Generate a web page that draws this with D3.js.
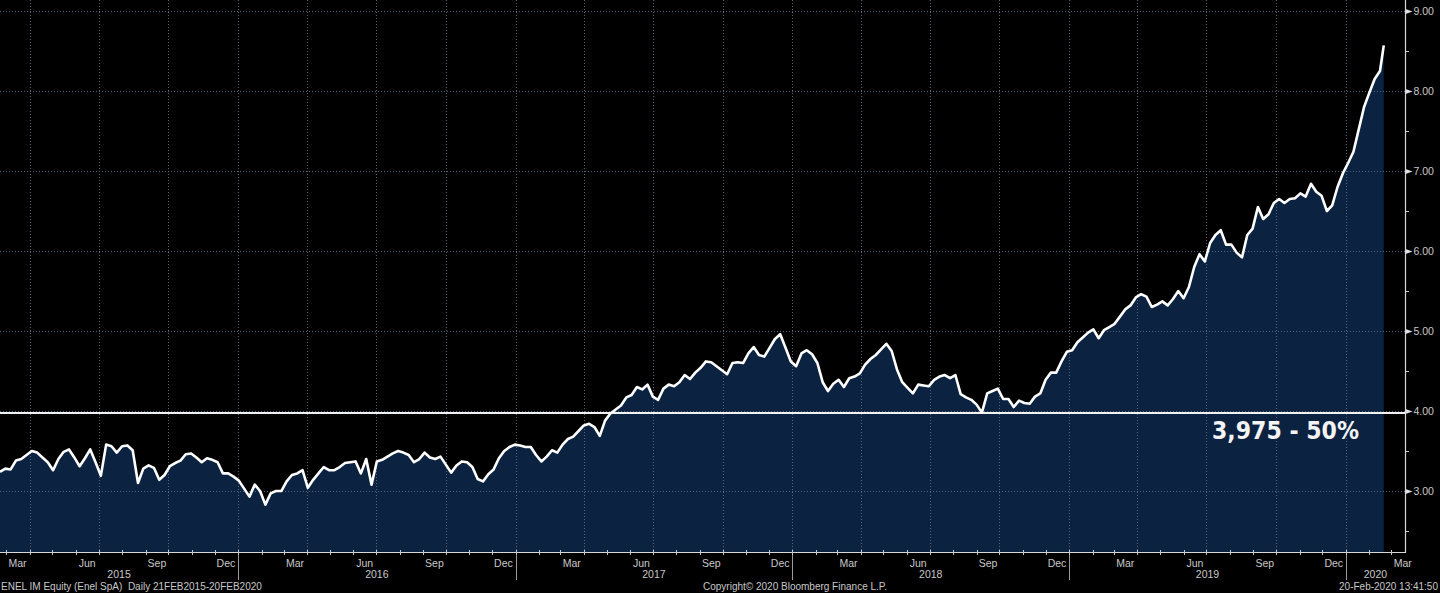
<!DOCTYPE html>
<html>
<head>
<meta charset="utf-8">
<script src="https://cdn.jsdelivr.net/npm/d3@7"></script>
<style>
html,body{margin:0;padding:0;background:#000;}
svg{display:block;}
text{white-space:pre;}
</style>
</head>
<body>
<svg id="chart" width="1440" height="593"></svg>
<script>
// ---- data ----
const startDate = "2015-02-21";
const endDate = "2020-02-20";
const stepDays = 7;
// weekly closing prices (EUR)
const prices = [
3.24,3.28,3.27,3.38,3.40,3.45,3.50,3.48,3.42,3.36,
3.26,3.40,3.49,3.52,3.42,3.31,3.41,3.52,3.36,3.19,
3.58,3.56,3.48,3.56,3.57,3.51,3.10,3.28,3.32,3.29,
3.14,3.20,3.31,3.35,3.38,3.46,3.47,3.42,3.36,3.41,
3.39,3.36,3.22,3.22,3.18,3.13,3.03,2.93,3.08,3.00,
2.83,2.97,3.00,3.00,3.12,3.20,3.22,3.26,3.04,3.14,
3.22,3.30,3.26,3.26,3.30,3.35,3.36,3.37,3.22,3.40,
3.08,3.37,3.39,3.43,3.47,3.50,3.48,3.45,3.36,3.40,
3.48,3.42,3.40,3.43,3.33,3.23,3.32,3.37,3.36,3.30,
3.15,3.12,3.21,3.27,3.41,3.50,3.55,3.58,3.57,3.55,
3.55,3.45,3.37,3.43,3.51,3.48,3.58,3.65,3.68,3.75,
3.82,3.84,3.80,3.69,3.88,3.97,4.02,4.07,4.17,4.20,
4.30,4.27,4.33,4.18,4.14,4.28,4.33,4.31,4.36,4.45,
4.40,4.48,4.54,4.62,4.61,4.56,4.51,4.46,4.60,4.61,
4.60,4.72,4.80,4.70,4.68,4.79,4.90,4.96,4.79,4.62,
4.56,4.72,4.76,4.71,4.60,4.36,4.25,4.34,4.39,4.30,
4.41,4.43,4.47,4.58,4.65,4.70,4.77,4.84,4.75,4.52,
4.36,4.29,4.22,4.33,4.32,4.31,4.39,4.43,4.45,4.41,
4.45,4.21,4.17,4.14,4.08,3.98,4.22,4.25,4.28,4.15,
4.15,4.05,4.13,4.10,4.09,4.18,4.22,4.39,4.48,4.48,
4.62,4.74,4.76,4.86,4.92,4.98,5.02,4.91,5.01,5.05,
5.09,5.18,5.27,5.32,5.42,5.46,5.43,5.30,5.33,5.37,
5.32,5.40,5.50,5.41,5.55,5.80,5.96,5.87,6.10,6.20,
6.26,6.08,6.08,5.98,5.92,6.20,6.28,6.55,6.40,6.46,
6.60,6.65,6.60,6.65,6.66,6.72,6.68,6.84,6.74,6.69,
6.50,6.57,6.80,6.97,7.10,7.24,7.52,7.80,7.98,8.15,
8.25,8.57
];
const yTicks = [3, 4, 5, 6, 7, 8, 9];
const yMinorTicks = [2.5, 3.5, 4.5, 5.5, 6.5, 7.5, 8.5];
const monthNames = ["Mar","Jun","Sep","Dec"];
const supportLevel = 3.975;
const supportLabel = "3,975 - 50%";
const footerLeft = "ENEL IM Equity (Enel SpA)  Daily 21FEB2015-20FEB2020";
const footerCenter = "Copyright\u00A9 2020 Bloomberg Finance L.P.";
const footerRight = "20-Feb-2020 13:41:50";

// ---- build ----
const parse = d3.utcParse("%Y-%m-%d");
const t0 = parse(startDate), t1 = parse(endDate);
const data = prices.map((v, i) => {
  let d = d3.utcDay.offset(t0, i * stepDays);
  if (d > t1) d = t1;
  return {date: d, value: v};
});

const W = 1440, H = 593;
const plotL = 0, plotR = 1405, plotT = 0, plotB = 552;
const svg = d3.select("#chart");

const x = d3.scaleUtc().domain([t0, parse("2020-03-19")]).range([plotL, plotR]);
const y = d3.scaleLinear().domain([2.244, 9.1375]).range([plotB - 0.5, plotT]);

const font = "'Liberation Sans', Arial, sans-serif";

// background
svg.append("rect").attr("width", W).attr("height", H).attr("fill", "#000");

// area
const area = d3.area().x(d => x(d.date)).y0(plotB).y1(d => y(d.value)).curve(d3.curveLinear);
svg.append("path").datum(data).attr("d", area).attr("fill", "#0b2241");

// grid
const quarters = d3.utcMonth.every(3).range(parse("2015-04-01"), parse("2020-03-01"));
const grid = svg.append("g");
grid.selectAll("line.v").data(quarters).join("line")
  .attr("x1", d => Math.round(x(d)) + 0.5).attr("x2", d => Math.round(x(d)) + 0.5)
  .attr("y1", plotT).attr("y2", plotB)
  .attr("stroke", "#56657a").attr("stroke-width", 1).attr("stroke-dasharray", "1,2");
grid.selectAll("line.h").data(yTicks).join("line")
  .attr("x1", plotL).attr("x2", plotR)
  .attr("y1", d => Math.round(y(d)) + 0.5).attr("y2", d => Math.round(y(d)) + 0.5)
  .attr("stroke", "#56657a").attr("stroke-width", 1).attr("stroke-dasharray", "1,2");

// support line
svg.append("line").attr("x1", plotL).attr("x2", plotR)
  .attr("y1", y(supportLevel)).attr("y2", y(supportLevel))
  .attr("stroke", "#f2f2f2").attr("stroke-width", 2);

// price line
const line = d3.line().x(d => x(d.date)).y(d => y(d.value)).curve(d3.curveLinear);
svg.append("path").datum(data).attr("d", line)
  .attr("fill", "none").attr("stroke", "#ffffff").attr("stroke-width", 2.6)
  .attr("stroke-linejoin", "round");

// support label
svg.append("text").attr("x", 1212).attr("y", y(supportLevel) + 26)
  .attr("fill", "#f4f4f4")
  .attr("font-family", "'DejaVu Sans', Verdana, sans-serif").attr("font-weight", "bold")
  .attr("font-size", 25).attr("textLength", 147).attr("lengthAdjust", "spacingAndGlyphs")
  .text(supportLabel);

// right axis
const yAxis = d3.axisRight(y).tickValues(yTicks).tickFormat(d3.format(".2f")).tickSize(0).tickPadding(8);
const ya = svg.append("g").attr("transform", `translate(${plotR + 0.5},0)`).call(yAxis);
ya.select(".domain").remove();
ya.selectAll("text").attr("fill", "#c8c8c8").attr("font-family", font).attr("font-size", 10.5);
ya.selectAll(".tick").append("path").attr("d", "M0,-2.5L7,0L0,2.5Z").attr("fill", "#e0e0e0");
svg.append("g").selectAll("line").data(yMinorTicks).join("line")
  .attr("x1", plotR).attr("x2", plotR + 4)
  .attr("y1", d => Math.round(y(d)) + 0.5).attr("y2", d => Math.round(y(d)) + 0.5)
  .attr("stroke", "#c8c8c8");
svg.append("line").attr("x1", plotR + 0.5).attr("x2", plotR + 0.5).attr("y1", 0).attr("y2", plotB + 1)
  .attr("stroke", "#d8d8d8").attr("stroke-width", 1.2);

// bottom axis
const months = d3.utcMonth.range(parse("2015-03-01"), parse("2020-03-19"));
const xa = svg.append("g");
xa.append("line").attr("x1", 0).attr("x2", plotR + 1).attr("y1", plotB + 0.5).attr("y2", plotB + 0.5)
  .attr("stroke", "#d8d8d8").attr("stroke-width", 1.2);
xa.selectAll("line.m").data(months).join("line")
  .attr("x1", d => Math.round(x(d)) + 0.5).attr("x2", d => Math.round(x(d)) + 0.5)
  .attr("y1", plotB - 2).attr("y2", plotB + 3)
  .attr("stroke", "#c8c8c8");
const labelMonths = months.filter(d => [2, 5, 8, 11].includes(d.getUTCMonth()));
xa.selectAll("text.m").data(labelMonths).join("text")
  .attr("x", d => x(d3.utcDay.offset(d, 15)))
  .attr("y", plotB + 15)
  .attr("text-anchor", "middle").attr("fill", "#c8c8c8")
  .attr("font-family", font).attr("font-size", 10.5)
  .text(d => monthNames[[2, 5, 8, 11].indexOf(d.getUTCMonth())]);
const yearStarts = d3.utcYear.range(parse("2016-01-01"), parse("2020-02-01"));
xa.selectAll("line.y").data(yearStarts).join("line")
  .attr("x1", d => Math.round(x(d)) + 0.5).attr("x2", d => Math.round(x(d)) + 0.5)
  .attr("y1", plotB + 3).attr("y2", plotB + 28)
  .attr("stroke", "#9a9a9a");
const years = [2015, 2016, 2017, 2018, 2019, 2020];
xa.selectAll("text.y").data(years).join("text")
  .attr("x", yr => {
    const a = Math.max(x(new Date(Date.UTC(yr, 0, 1))), plotL);
    const b = Math.min(x(new Date(Date.UTC(yr + 1, 0, 1))), plotR);
    return (a + b) / 2;
  })
  .attr("y", plotB + 26)
  .attr("text-anchor", "middle").attr("fill", "#c8c8c8")
  .attr("font-family", font).attr("font-size", 10.5)
  .text(yr => yr);

// footer
const fy = 590;
svg.append("text").attr("x", 1).attr("y", fy).attr("fill", "#c8c8c8")
  .attr("font-family", font).attr("font-size", 10).text(footerLeft);
svg.append("text").attr("x", 795).attr("y", fy).attr("text-anchor", "middle").attr("fill", "#c8c8c8")
  .attr("font-family", font).attr("font-size", 10).text(footerCenter);
svg.append("text").attr("x", 1438).attr("y", fy).attr("text-anchor", "end").attr("fill", "#c8c8c8")
  .attr("font-family", font).attr("font-size", 10).text(footerRight);
</script>
</body>
</html>
